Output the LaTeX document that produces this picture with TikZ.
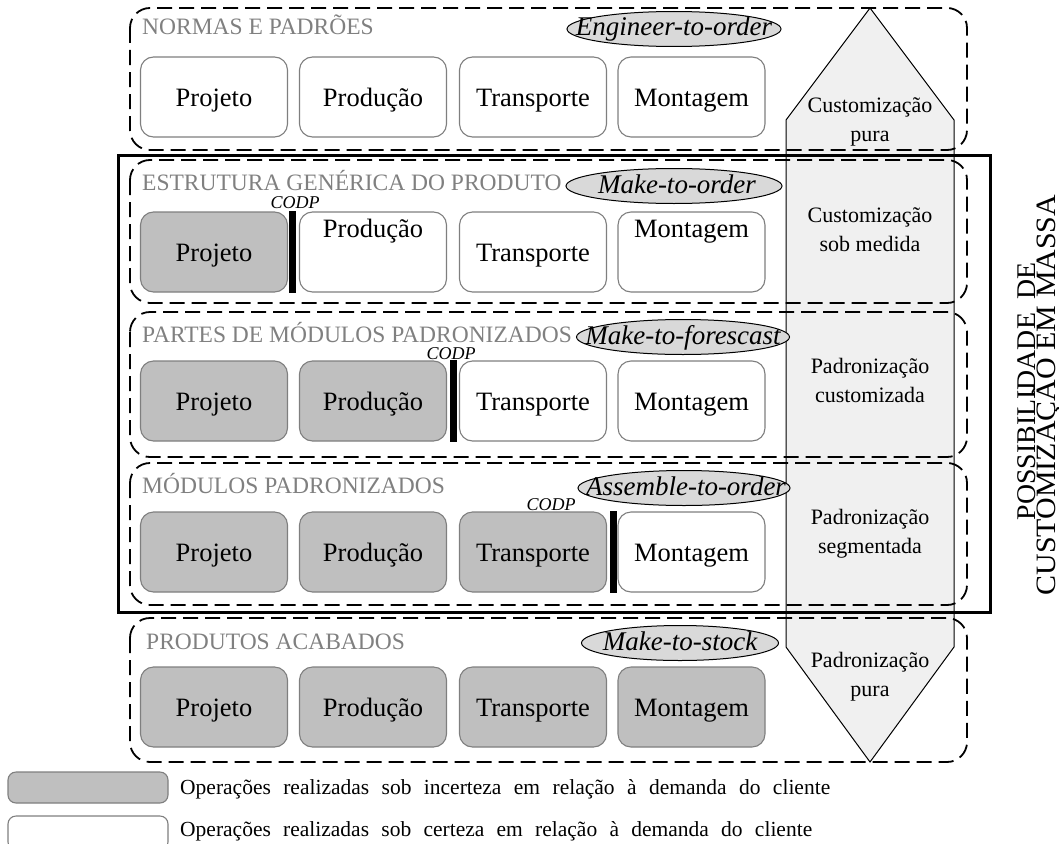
\documentclass[tikz,border=0pt]{standalone}
\usepackage{fontspec}
\setmainfont{Liberation Serif}
\usetikzlibrary{shapes.geometric}

\definecolor{unsure}{HTML}{BFBFBF}
\definecolor{boxline}{HTML}{7F7F7F}
\definecolor{ovalfill}{HTML}{D9D9D9}
\definecolor{arrowfill}{HTML}{F0F0F0}
\definecolor{rowtext}{HTML}{808080}

\begin{document}
\begin{tikzpicture}[x=1pt,y=-1pt,
  opbox/.style={draw=boxline, line width=1.1pt, rounded corners=13pt,
    minimum width=147pt, minimum height=80pt, inner sep=0pt,
    text height=25pt, text depth=6pt,
    font=\fontsize{26.5}{30}\selectfont},
  uncertain/.style={opbox, fill=unsure},
  certain/.style={opbox, fill=white},
  keybox/.style={draw=boxline, line width=1.1pt, rounded corners=8pt, minimum width=160pt, inner sep=0pt},
  rowframe/.style={draw=black, dash pattern=on 15pt off 7pt, line width=1.8pt, rounded corners=20pt},
  rowtitle/.style={anchor=base west, inner sep=0pt, text=rowtext, font=\fontsize{23.5}{26}\selectfont},
  oval/.style={ellipse, draw=black, fill=ovalfill, line width=1pt, inner sep=0pt, minimum height=35pt},
  ovaltext/.style={anchor=base, inner sep=0pt, font=\fontsize{27}{29}\selectfont\itshape},
  codp/.style={inner sep=0pt, font=\fontsize{18}{20}\selectfont\itshape},
  codpbar/.style={fill=black, draw=none, minimum width=7pt, minimum height=82pt, inner sep=0pt},
  levels/.style={align=center, inner sep=0pt, font=\fontsize{22}{29}\selectfont},
  sidetext/.style={rotate=90, anchor=base, inner sep=0pt},
  keytext/.style={anchor=base west, inner sep=0pt, font=\fontsize{21.5}{24}\selectfont},
]
\useasboundingbox (0,0) rectangle (1059,843);
\clip (0,0) rectangle (1059,843);

% double-headed band: customization (top) to standardization (bottom)
\draw[fill=arrowfill, line width=1pt, line join=miter]
  (786,120) -- (870,8) -- (954,120) -- (954,647) -- (870,762) -- (786,647) -- cycle;

% dashed frames, one per strategy
\draw[rowframe] (130,8) rectangle (967,150);
\draw[rowframe] (130,160) rectangle (967,303);
\draw[rowframe] (130,312) rectangle (967,457);
\draw[rowframe] (130,463) rectangle (967,605);
\draw[rowframe] (130,618) rectangle (967,762);

% frame around the mass customization strategies
\draw[line width=3pt] (118,155) rectangle (990,612);

% strategy titles
\node[rowtitle] (t1) at (142,35) {NORMAS E PADRÕES};
\node[rowtitle] (t2) at (142,190) {ESTRUTURA GENÉRICA DO PRODUTO};
\node[rowtitle] (t3) at (142,342) {PARTES DE MÓDULOS PADRONIZADOS};
\node[rowtitle] (t4) at (142,493) {MÓDULOS PADRONIZADOS};
\node[rowtitle] (t5) at (146,649) {PRODUTOS ACABADOS};

% strategy ovals
\node[oval, minimum width=214pt] (o1) at (674,29) {};
\node[ovaltext] (o1t) at (674,36) {Engineer-to-order};
\node[oval, minimum width=216pt] (o2) at (674,186) {};
\node[ovaltext] (o2t) at (677,193) {Make-to-order};
\node[oval, minimum width=213pt] (o3) at (683,337) {};
\node[ovaltext] (o3t) at (683,344) {Make-to-forescast};
\node[oval, minimum width=212pt] (o4) at (684,488) {};
\node[ovaltext] (o4t) at (686,495) {Assemble-to-order};
\node[oval, minimum width=197pt] (o5) at (680,643) {};
\node[ovaltext] (o5t) at (680,650) {Make-to-stock};

% operations: engineer-to-order
\node[certain] (a1) at (214,97) {Projeto};
\node[certain] (a2) at (373,97) {Produção};
\node[certain] (a3) at (533,97) {Transporte};
\node[certain] (a4) at (691.5,97) {Montagem};

% make-to-order
\node[uncertain] (b1) at (214,252) {Projeto};
\node[certain] (b2) at (373,252) {\raisebox{24pt}[0pt][0pt]{Produção}};
\node[certain] (b3) at (533,252) {Transporte};
\node[certain] (b4) at (691.5,252) {\raisebox{24pt}[0pt][0pt]{Montagem}};

% make-to-forecast
\node[uncertain] (c1) at (214,401) {Projeto};
\node[uncertain] (c2) at (373,401) {Produção};
\node[certain] (c3) at (533,401) {Transporte};
\node[certain] (c4) at (691.5,401) {Montagem};

% assemble-to-order
\node[uncertain] (d1) at (214,552) {Projeto};
\node[uncertain] (d2) at (373,552) {Produção};
\node[uncertain] (d3) at (533,552) {Transporte};
\node[certain] (d4) at (691.5,552) {Montagem};

% make-to-stock
\node[uncertain] (e1) at (214,707) {Projeto};
\node[uncertain] (e2) at (373,707) {Produção};
\node[uncertain] (e3) at (533,707) {Transporte};
\node[uncertain] (e4) at (691.5,707) {Montagem};

% customer order decoupling points
\node[codpbar] (p2) at (292.5,252) {};
\node[codp] (p2t) at (295,203) {CODP};
\node[codpbar] (p3) at (453.5,401) {};
\node[codp] (p3t) at (451,354) {CODP};
\node[codpbar] (p4) at (613.5,552) {};
\node[codp] (p4t) at (551,505) {CODP};

% levels along the band
\node[levels] (l1) at (870,122) {Customização\\pura};
\node[levels] (l2) at (870,230) {Customização\\sob medida};
\node[levels] (l3) at (870,380) {Padronização\\customizada};
\node[levels] (l4) at (870,534) {Padronização\\segmentada};
\node[levels] (l5) at (870,677) {Padronização\\pura};

% side caption, read bottom to top
\node[sidetext, font=\fontsize{27}{29}\selectfont] (side1) at (1035,391)
  {\scalebox{1.03}[1]{POSSIBILIDADE\hspace{0.5em}DE}};
\node[sidetext, font=\fontsize{28}{30}\selectfont] (side2) at (1055,395)
  {\scalebox{1.07}[1]{CUSTOMIZAÇÃO EM MASSA}};

% key
\node[keybox, fill=unsure, minimum height=31pt] (k1) at (88,787.5) {};
\node[keytext] (k1t) at (180,794) {\makebox[650pt][s]{Operações realizadas sob incerteza em relação à demanda do cliente}};
\node[keybox, fill=white, minimum height=34pt] (k2) at (88,833) {};
\node[keytext] (k2t) at (180,836) {\makebox[632pt][s]{Operações realizadas sob certeza em relação à demanda do cliente}};
\end{tikzpicture}
\end{document}
